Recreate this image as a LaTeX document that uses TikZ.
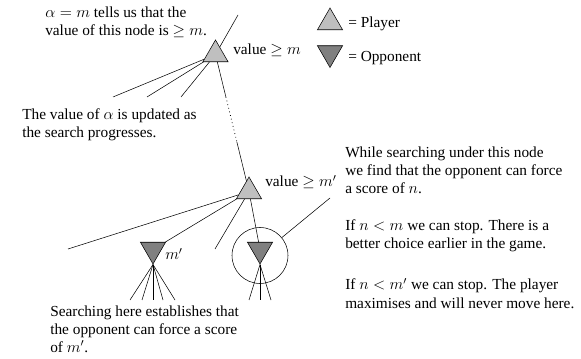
\documentclass[tikz,border=0pt]{standalone}
\usepackage{fontspec}
\setmainfont{Liberation Serif}
\usetikzlibrary{shapes.geometric, calc}

\begin{document}
\begin{tikzpicture}[x=0.75pt, y=-0.75pt,
  every node/.style={font=\fontsize{11.5}{13.5}\selectfont},
  player/.style={regular polygon, regular polygon sides=3, minimum size=21.75pt,
    inner sep=0pt, draw, fill=black!25},
  opponent/.style={player, shape border rotate=180, fill=black!50},
  note/.style={anchor=base west, align=left, inner sep=0pt}]
  \useasboundingbox (0,0) rectangle (581,359);

  % Nodes of the search tree
  \node[player] (p1) at (215.5,54.5) {};
  \node[player] (p2) at (249,191.5) {};
  \node[opponent] (o1) at (153,249.5) {};
  \node[opponent] (o2) at (260,249.5) {};
  \node[circle, draw, minimum size=42pt, inner sep=0pt] (ring) at (260,255.5) {};

  % Moves out of the top node
  \coordinate (up) at (238,15);
  \draw (p1) -- (up);
  \foreach \x in {113,147,181}
    \draw (p1) -- (\x,97);
  \coordinate (d1) at ($(p1)!0.31!(p2)$);
  \coordinate (d2) at ($(p1)!0.64!(p2)$);
  \draw (p1) -- (d1);
  \draw[line width=0.6pt, dash pattern=on 0.6pt off 2.2pt] (d1) -- (d2);
  \draw (d2) -- (p2);

  % Moves out of the lower node
  \draw (p2) -- (68,249);
  \draw (p2) -- (o1);
  \draw (p2) -- (215,249);
  \draw (p2) -- (o2);
  \foreach \x in {130,142,153,163,175}
    \draw (o1.corner 1) -- (\x,300);
  \foreach \x in {249,260,271}
    \draw (o2.corner 1) -- (\x,300);

  % Labels
  \node[anchor=base west, inner sep=0pt] (v1) at (233,55) {value $\geq m$};
  \node[anchor=base west, inner sep=0pt] (v2) at (265,187) {value $\geq m'$};
  \node[anchor=base west, inner sep=0pt] (mo) at (165,260) {$m'$};

  % Legend
  \node[player] (lp) at (330,22.5) {};
  \node[anchor=base west, inner sep=0pt] (lpt) at (348,28) {= Player};
  \node[opponent] (lo) at (330,53) {};
  \node[anchor=base west, inner sep=0pt] (lot) at (348,62) {= Opponent};

  % Notes (anchored at the baseline of their last line)
  \node[note] (na) at (45,36) {$\alpha = m$ tells us that the\\value of this node is $\geq m$.};
  \node[note] (nb) at (22,138) {The value of $\alpha$ is updated as\\the search progresses.};
  \node[note] (nc) at (50,352) {Searching here establishes that\\the opponent can force a score\\of $m'$.};
  \node[note] (nd) at (345,194) {While searching under this node\\we find that the opponent can force\\a score of $n$.};
  \node[note] (ne) at (345,249) {If $n < m$ we can stop. There is a\\better choice earlier in the game.};
  \node[note] (nf) at (345,308) {If $n < m'$ we can stop. The player\\maximises and will never move here.};

  % Pointer to the circled node
  \coordinate (tip) at (330,198);
  \draw (ring) -- (tip);
\end{tikzpicture}
\end{document}
